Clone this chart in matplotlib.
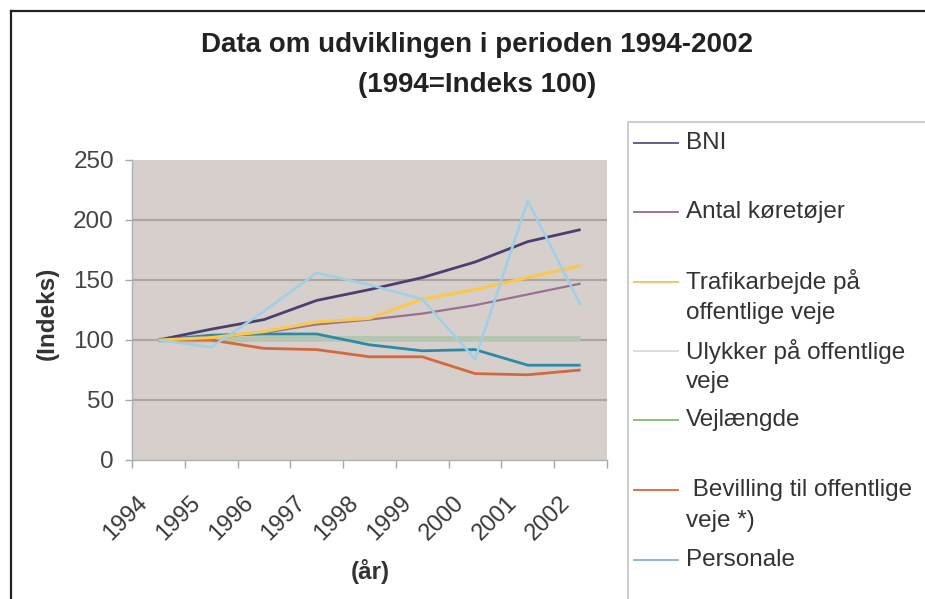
import matplotlib
matplotlib.use('Agg')
import matplotlib.pyplot as plt
from matplotlib.lines import Line2D
from matplotlib.patches import Rectangle
from matplotlib.transforms import ScaledTranslation
import numpy as np

plt.rcParams['font.family'] = ['Liberation Sans', 'DejaVu Sans']

# ---------------- data ----------------
years = ['1994', '1995', '1996', '1997', '1998', '1999', '2000', '2001', '2002']
bni = [100, 109, 117, 133, 142, 152, 165, 182, 192]
antal_koretojer = [100, 102, 106, 113, 117, 122, 129, 138, 147]
trafikarbejde = [100, 102, 107, 115, 118, 134, 142, 152, 162]
ulykker = [100, 94, 124, 156, 146, 134, 84, 216, 129]
vejlaengde = [100, 100, 101, 101, 101, 101, 101, 101, 101]
bevilling = [100, 100, 93, 92, 86, 86, 72, 71, 75]
personale = [100, 104, 105, 105, 96, 91, 92, 79, 79]

labels = ['BNI', 'Antal køretøjer', 'Trafikarbejde på\noffentlige veje',
          'Ulykker på offentlige\nveje', 'Vejlængde',
          ' Bevilling til offentlige\nveje *)', 'Personale']
series = [bni, antal_koretojer, trafikarbejde, ulykker, vejlaengde, bevilling, personale]
colors = ['#4b3f72', '#9a7094', '#fbc84a', '#9fd0e6', '#b4c6b2', '#d2693f', '#2d8aa6']
widths = [2.0, 1.6, 2.2, 1.8, 4.0, 2.0, 2.0]
zorders = [6, 5, 7, 8, 3, 4, 5]
legend_colors = ['#6a5a98', '#a070a8', '#f7c070', '#dcdcdc', '#8cc07a', '#e07048', '#8ab8d8']

yticks = [0, 50, 100, 150, 200, 250]

W, H = 925, 599
fig = plt.figure(figsize=(W / 100, H / 100), dpi=100)
fig.patch.set_facecolor('white')


def fx(x):
    return x / W


def fy(y):
    return 1 - y / H


ax = fig.add_axes([fx(132), fy(460), fx(607) - fx(132), (460 - 160) / H])
ax.set_facecolor('#d6cfcc')

xs = np.arange(len(years))
for vals, c, lw, z in zip(series, colors, widths, zorders):
    ax.plot(xs, vals, color=c, lw=lw, zorder=z, solid_capstyle='butt')

ax.set_xlim(-0.5, len(years) - 0.5)
ax.set_ylim(yticks[0], yticks[-1])

# gridlines (inner only)
ax.hlines(yticks[1:-1], -0.5, len(years) - 0.5, color='#aaa4a2', lw=1.6, zorder=1)

ax.set_yticks(yticks)
ax.set_yticklabels([str(t) for t in yticks])
ax.set_xticks(np.arange(-0.5, len(years), 1.0))
ax.set_xticklabels([])
ax.set_xticks(xs, minor=True)
ax.set_xticklabels(years, minor=True, rotation=45, ha='right', va='top',
                   rotation_mode='anchor', fontsize=17, color='#383838')
ax.tick_params(axis='x', which='major', length=6, color='#a8a8a8', width=1)
ax.tick_params(axis='x', which='minor', length=0, pad=23)
ax.tick_params(axis='y', length=5, color='#a8a8a8', width=1, pad=8,
               labelsize=17.5, labelcolor='#444')
off = ScaledTranslation(-22 / 100, 0, fig.dpi_scale_trans)
for lab in ax.get_xticklabels(minor=True):
    lab.set_transform(lab.get_transform() + off)

for s in ['top', 'right']:
    ax.spines[s].set_visible(False)
for s in ['left', 'bottom']:
    ax.spines[s].set_color('#b0b0b0')
    ax.spines[s].set_linewidth(1)

# axis labels
fig.text(fx(47), fy(313), '(Indeks)', rotation=90, ha='center', va='center',
         fontsize=17.5, fontweight='bold', color='#333')
fig.text(fx(370), fy(571), '(år)', ha='center', va='center',
         fontsize=17.5, fontweight='bold', color='#333')

# title
fig.text(fx(477), fy(45), 'Data om udviklingen i perioden 1994-2002', ha='center',
         va='center', fontsize=20, fontweight='bold', color='#222')
fig.text(fx(477), fy(85), '(1994=Indeks 100)', ha='center', va='center',
         fontsize=20, fontweight='bold', color='#222')

# outer frame (top & left visible)
fig.add_artist(Line2D([fx(11), fx(11)], [fy(11), -0.1], transform=fig.transFigure,
                      color='#222', lw=1.6))
fig.add_artist(Line2D([fx(11), 1.1], [fy(11), fy(11)], transform=fig.transFigure,
                      color='#222', lw=1.6))

# legend box
fig.add_artist(Rectangle((fx(628), -0.1), 1.2, fy(122) + 0.1, transform=fig.transFigure,
                         facecolor='none', edgecolor='#c4c4c4', lw=1.2))
legend_y = [143, 212, 282, 351, 420, 490, 560]
for lab, c, y in zip(labels, legend_colors, legend_y):
    fig.add_artist(Line2D([fx(634), fx(678)], [fy(y), fy(y)], transform=fig.transFigure,
                          color=c, lw=1.4))
    for i, line in enumerate(lab.split('\n')):
        fig.text(fx(686), fy(y + i * 31), line, ha='left', va='center',
                 fontsize=17.5, color='#333')

fig.savefig('out.png', dpi=100, facecolor='white')
